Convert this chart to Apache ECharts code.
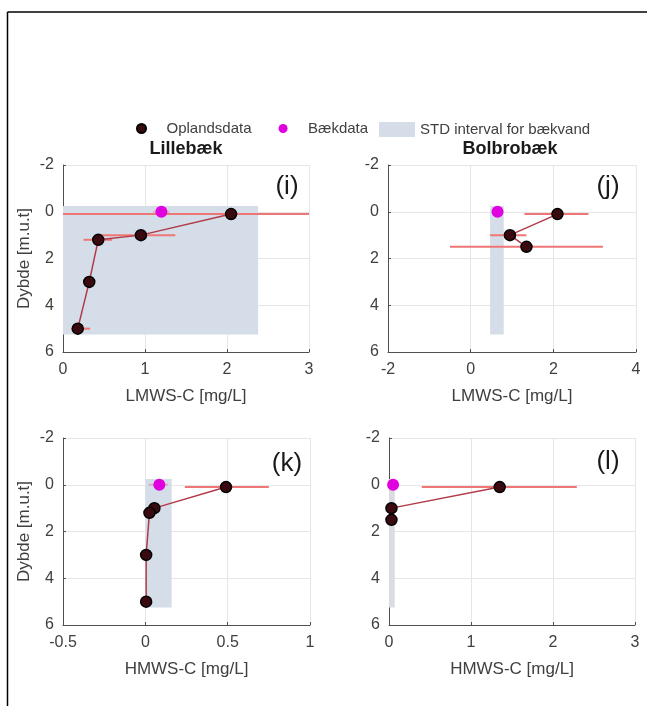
<!DOCTYPE html>
<html>
<head>
<meta charset="utf-8">
<title>LMWS-C / HMWS-C profiler</title>
<script src="https://cdn.jsdelivr.net/npm/echarts@6/dist/echarts.min.js"></script>
<style>
  html, body { margin: 0; padding: 0; background: #fff; }
  #chart { width: 647px; height: 706px; }
</style>
</head>
<body>
<div id="chart"></div>
<script>
// Lillebæk (catchment samples), depth in m below surface
const depthLille = [0.1, 1.0, 1.2, 3.0, 5.0];
const lmwsLille = [2.05, 0.95, 0.43, 0.32, 0.18];
const lmwsLilleLo = [0, 0.45, 0.25, 0.29, 0.1];
const lmwsLilleHi = [3.2, 1.37, 0.6, 0.35, 0.33];
const hmwsLille = [0.49, 0.055, 0.025, 0.005, 0.005];
const hmwsLilleLo = [0.24, 0.05, 0.02, 0.0, 0.0];
const hmwsLilleHi = [0.75, 0.06, 0.03, 0.01, 0.01];

// Bolbrobæk (catchment samples)
const depthBolb = [0.1, 1.0, 1.5];
const lmwsBolb = [2.1, 0.95, 1.35];
const lmwsBolbLo = [1.3, 0.47, -0.5];
const lmwsBolbHi = [2.85, 1.35, 3.2];
const hmwsBolb = [1.35, 0.03, 0.03];
const hmwsBolbLo = [0.4, 0.02, 0.02];
const hmwsBolbHi = [2.29, 0.04, 0.04];

// stream samples (Bækdata), panels i, j, k, l
const baekDepth = 0;
const baekValue = [1.2, 0.65, 0.085, 0.05];
const baekLo = [1.1, 0.6, 0.02, 0.03];
const baekHi = [1.3, 0.7, 0.14, 0.07];

// STD interval for stream water, panels i, j, k, l
const stdLo = [0, 0.47, 0, 0];
const stdHi = [2.38, 0.8, 0.16, 0.07];
const stdDepth = [-0.25, 5.25];

// axes
const xMin = [0, -2, -0.5, 0];
const xMax = [3, 4, 1, 3];
const xStep = [1, 2, 0.5, 1];
const xNames = ['LMWS-C [mg/L]', 'LMWS-C [mg/L]', 'HMWS-C [mg/L]', 'HMWS-C [mg/L]'];
const panelTags = ['(i)', '(j)', '(k)', '(l)'];
const siteNames = ['Lillebæk', 'Bolbrobæk'];

const panels = [
  { x: lmwsLille, lo: lmwsLilleLo, hi: lmwsLilleHi, depth: depthLille },
  { x: lmwsBolb, lo: lmwsBolbLo, hi: lmwsBolbHi, depth: depthBolb },
  { x: hmwsLille, lo: hmwsLilleLo, hi: hmwsLilleHi, depth: depthLille },
  { x: hmwsBolb, lo: hmwsBolbLo, hi: hmwsBolbHi, depth: depthBolb },
];

const boxes = [
  { left: 63, top: 165, width: 246, height: 187 },
  { left: 388, top: 165, width: 248, height: 187 },
  { left: 63, top: 438, width: 247, height: 187 },
  { left: 389, top: 438, width: 246, height: 187 },
];
const tagPos = [[287, 187], [608, 187], [287, 464], [608, 462]];

const FONT = '"Liberation Sans", Arial, sans-serif';
const TXT = '#404040';
const STD_COLOR = '#d5dee8';
const stdFill = ['#d5dee8', '#d5dee8', '#d5dee8', '#d9dce0'];

const errorBar = (color, width) => (params, api) => {
  const cs = params.coordSys;
  const y = api.coord([0, api.value(2)])[1];
  const x0 = Math.max(cs.x, api.coord([api.value(0), 0])[0]);
  const x1 = Math.min(cs.x + cs.width, api.coord([api.value(1), 0])[0]);
  return {
    type: 'line',
    shape: { x1: x0, y1: y, x2: x1, y2: y },
    style: { stroke: color, lineWidth: width },
  };
};

const stdBox = fill => (params, api) => {
  const p0 = api.coord([api.value(0), api.value(2)]);
  const p1 = api.coord([api.value(1), api.value(3)]);
  return {
    type: 'rect',
    shape: { x: p0[0], y: p0[1], width: p1[0] - p0[0], height: p1[1] - p0[1] },
    style: { fill },
  };
};

const grid = boxes.map(b => ({ ...b, containLabel: false }));

const xAxis = boxes.map((b, i) => ({
  type: 'value',
  gridIndex: i,
  min: xMin[i],
  max: xMax[i],
  interval: xStep[i],
  name: xNames[i],
  nameLocation: 'middle',
  nameGap: 36,
  nameTextStyle: { fontFamily: FONT, fontSize: 17, color: TXT },
  axisLine: { show: true, onZero: false, lineStyle: { color: '#505050', width: 1 } },
  axisTick: { show: true, inside: true, length: 3, lineStyle: { color: '#505050' } },
  axisLabel: { fontFamily: FONT, fontSize: 16, color: TXT, margin: 10 },
  splitLine: { show: true, lineStyle: { color: '#e6e6e6' } },
}));

const yAxis = boxes.map((b, i) => ({
  type: 'value',
  gridIndex: i,
  min: -2,
  max: 6,
  interval: 2,
  inverse: true,
  name: i % 2 === 0 ? 'Dybde [m.u.t]' : '',
  nameLocation: 'middle',
  nameGap: 30,
  nameTextStyle: { fontFamily: FONT, fontSize: 17, color: TXT },
  axisLine: { show: true, onZero: false, lineStyle: { color: '#505050', width: 1 } },
  axisTick: { show: true, inside: true, length: 3, lineStyle: { color: '#505050' } },
  axisLabel: { fontFamily: FONT, fontSize: 16, color: TXT, margin: 9 },
  splitLine: { show: true, lineStyle: { color: '#e6e6e6' } },
}));

const series = [];
panels.forEach((p, i) => {
  series.push({
    name: 'STD interval for bækvand',
    type: 'custom',
    xAxisIndex: i,
    yAxisIndex: i,
    z: 1,
    itemStyle: { color: STD_COLOR },
    renderItem: stdBox(stdFill[i]),
    data: [[stdLo[i], stdHi[i], stdDepth[0], stdDepth[1]]],
  });
  series.push({
    type: 'custom',
    xAxisIndex: i,
    yAxisIndex: i,
    z: 2,
    renderItem: errorBar('#ef7676', 2),
    data: p.depth.map((d, k) => [p.lo[k], p.hi[k], d]),
  });
  series.push({
    type: 'custom',
    xAxisIndex: i,
    yAxisIndex: i,
    z: 2,
    renderItem: errorBar('#dcaacb', 2),
    data: [[baekLo[i], baekHi[i], baekDepth]],
  });
  series.push({
    type: 'line',
    xAxisIndex: i,
    yAxisIndex: i,
    z: 3,
    showSymbol: false,
    lineStyle: { color: '#b03a48', width: 1.5 },
    data: p.depth.map((d, k) => [p.x[k], d]),
  });
  series.push({
    name: 'Oplandsdata',
    type: 'scatter',
    xAxisIndex: i,
    yAxisIndex: i,
    z: 4,
    symbolSize: 11,
    itemStyle: { color: '#3a0a10', borderColor: '#000', borderWidth: 1.5, opacity: 1 },
    data: p.depth.map((d, k) => [p.x[k], d]),
  });
  series.push({
    name: 'Bækdata',
    type: 'scatter',
    xAxisIndex: i,
    yAxisIndex: i,
    z: 4,
    symbolSize: 12,
    itemStyle: { color: '#e000e0', opacity: 1 },
    data: [[baekValue[i], baekDepth]],
  });
});

const chart = echarts.init(document.getElementById('chart'));
chart.setOption({
  animation: false,
  backgroundColor: '#fff',
  title: siteNames.map((s, i) => ({
    text: s,
    left: i === 0 ? 186 : 510,
    top: 140,
    textAlign: 'center',
    padding: 0,
    textStyle: { fontFamily: FONT, fontSize: 18, fontWeight: 'bold', color: '#1a1a1a' },
  })),
  legend: [
    {
      data: ['Oplandsdata', 'Bækdata'],
      icon: 'circle',
      left: 136,
      top: 121,
      padding: 0,
      itemWidth: 40,
      itemHeight: 9,
      itemGap: 27,
      selectedMode: false,
      textStyle: { fontFamily: FONT, fontSize: 15, color: TXT },
    },
    {
      data: ['STD interval for bækvand'],
      icon: 'rect',
      left: 379,
      top: 122,
      padding: 0,
      itemWidth: 36,
      itemHeight: 15,
      selectedMode: false,
      textStyle: { fontFamily: FONT, fontSize: 15, color: TXT },
    },
  ],
  grid,
  xAxis,
  yAxis,
  series,
  graphic: [
    { type: 'line', shape: { x1: 7.5, y1: 12, x2: 647, y2: 12 }, style: { stroke: '#000', lineWidth: 1.5 } },
    { type: 'line', shape: { x1: 7.5, y1: 12, x2: 7.5, y2: 706 }, style: { stroke: '#000', lineWidth: 1.5 } },
    ...panelTags.map((t, i) => ({
      type: 'text',
      x: tagPos[i][0],
      y: tagPos[i][1],
      style: {
        text: t,
        fontFamily: FONT,
        fontSize: 26,
        fill: '#1a1a1a',
        align: 'center',
        verticalAlign: 'middle',
      },
    })),
  ],
});
</script>
</body>
</html>
